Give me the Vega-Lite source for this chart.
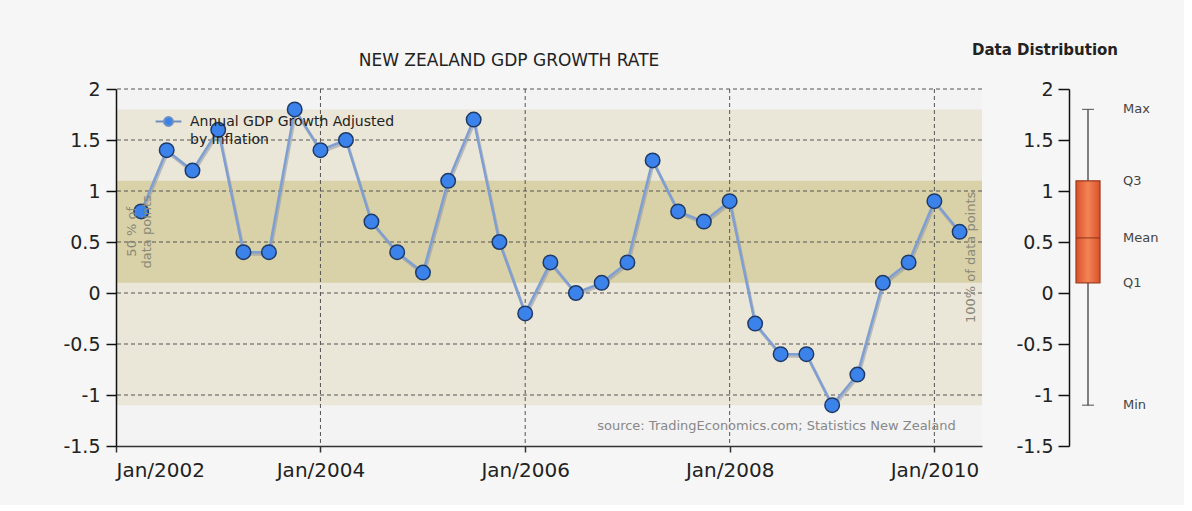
{
  "$schema": "https://vega.github.io/schema/vega-lite/v6.json",
  "background": "#f6f6f6",
  "padding": {"left": 62, "top": 43, "right": 25, "bottom": 25},
  "spacing": -12,
  "datasets": {
    "gdp": [
      {"date": "2002-04-01", "value": 0.8, "series": "Annual GDP Growth Adjusted by Inflation"},
      {"date": "2002-07-01", "value": 1.4, "series": "Annual GDP Growth Adjusted by Inflation"},
      {"date": "2002-10-01", "value": 1.2, "series": "Annual GDP Growth Adjusted by Inflation"},
      {"date": "2003-01-01", "value": 1.6, "series": "Annual GDP Growth Adjusted by Inflation"},
      {"date": "2003-04-01", "value": 0.4, "series": "Annual GDP Growth Adjusted by Inflation"},
      {"date": "2003-07-01", "value": 0.4, "series": "Annual GDP Growth Adjusted by Inflation"},
      {"date": "2003-10-01", "value": 1.8, "series": "Annual GDP Growth Adjusted by Inflation"},
      {"date": "2004-01-01", "value": 1.4, "series": "Annual GDP Growth Adjusted by Inflation"},
      {"date": "2004-04-01", "value": 1.5, "series": "Annual GDP Growth Adjusted by Inflation"},
      {"date": "2004-07-01", "value": 0.7, "series": "Annual GDP Growth Adjusted by Inflation"},
      {"date": "2004-10-01", "value": 0.4, "series": "Annual GDP Growth Adjusted by Inflation"},
      {"date": "2005-01-01", "value": 0.2, "series": "Annual GDP Growth Adjusted by Inflation"},
      {"date": "2005-04-01", "value": 1.1, "series": "Annual GDP Growth Adjusted by Inflation"},
      {"date": "2005-07-01", "value": 1.7, "series": "Annual GDP Growth Adjusted by Inflation"},
      {"date": "2005-10-01", "value": 0.5, "series": "Annual GDP Growth Adjusted by Inflation"},
      {"date": "2006-01-01", "value": -0.2, "series": "Annual GDP Growth Adjusted by Inflation"},
      {"date": "2006-04-01", "value": 0.3, "series": "Annual GDP Growth Adjusted by Inflation"},
      {"date": "2006-07-01", "value": 0.0, "series": "Annual GDP Growth Adjusted by Inflation"},
      {"date": "2006-10-01", "value": 0.1, "series": "Annual GDP Growth Adjusted by Inflation"},
      {"date": "2007-01-01", "value": 0.3, "series": "Annual GDP Growth Adjusted by Inflation"},
      {"date": "2007-04-01", "value": 1.3, "series": "Annual GDP Growth Adjusted by Inflation"},
      {"date": "2007-07-01", "value": 0.8, "series": "Annual GDP Growth Adjusted by Inflation"},
      {"date": "2007-10-01", "value": 0.7, "series": "Annual GDP Growth Adjusted by Inflation"},
      {"date": "2008-01-01", "value": 0.9, "series": "Annual GDP Growth Adjusted by Inflation"},
      {"date": "2008-04-01", "value": -0.3, "series": "Annual GDP Growth Adjusted by Inflation"},
      {"date": "2008-07-01", "value": -0.6, "series": "Annual GDP Growth Adjusted by Inflation"},
      {"date": "2008-10-01", "value": -0.6, "series": "Annual GDP Growth Adjusted by Inflation"},
      {"date": "2009-01-01", "value": -1.1, "series": "Annual GDP Growth Adjusted by Inflation"},
      {"date": "2009-04-01", "value": -0.8, "series": "Annual GDP Growth Adjusted by Inflation"},
      {"date": "2009-07-01", "value": 0.1, "series": "Annual GDP Growth Adjusted by Inflation"},
      {"date": "2009-10-01", "value": 0.3, "series": "Annual GDP Growth Adjusted by Inflation"},
      {"date": "2010-01-01", "value": 0.9, "series": "Annual GDP Growth Adjusted by Inflation"},
      {"date": "2010-04-01", "value": 0.6, "series": "Annual GDP Growth Adjusted by Inflation"}
    ],
    "bands": [
      {"band": "100%", "lo": -1.1, "hi": 1.8},
      {"band": "50%", "lo": 0.1, "hi": 1.1}
    ],
    "ygrid": [{"v": -1}, {"v": -0.5}, {"v": 0}, {"v": 0.5}, {"v": 1}, {"v": 1.5}, {"v": 2}],
    "xgrid": [{"d": "2004-01-01"}, {"d": "2006-01-01"}, {"d": "2008-01-01"}, {"d": "2010-01-01"}],
    "box": [{"series": "GDP", "Min": -1.1, "Q1": 0.1, "Mean": 0.54, "Q3": 1.1, "Max": 1.8}]
  },
  "hconcat": [
    {
      "width": 866,
      "height": 357,
      "title": {"text": "NEW ZEALAND GDP GROWTH RATE", "font": "DejaVu Sans", "fontSize": 17, "fontWeight": "normal", "color": "#222222", "dx": -40, "offset": 10},
      "view": {"fill": "#f3f3f3", "stroke": null},
      "layer": [
        {
          "data": {"name": "bands"},
          "mark": {"type": "rect"},
          "encoding": {
            "y": {"field": "hi", "type": "quantitative", "title": null,
                  "scale": {"domain": [-1.5, 2], "nice": false, "zero": false},
                  "axis": {"values": [-1.5, -1, -0.5, 0, 0.5, 1, 1.5, 2], "labelExpr": "'' + datum.value", "grid": false, "zindex": 1,
                           "domainColor": "#111111", "domainWidth": 1.5, "tickColor": "#111111", "tickSize": 10, "tickWidth": 1.5,
                           "labelFont": "DejaVu Sans", "labelFontSize": 19, "labelColor": "#222222", "labelPadding": 6}},
            "y2": {"field": "lo"},
            "color": {"field": "band", "type": "nominal", "scale": {"domain": ["100%", "50%"], "range": ["#eae6d8", "#d9d1a7"]}, "legend": null}
          }
        },
        {
          "data": {"name": "ygrid"},
          "mark": {"type": "rule", "color": "#555555", "strokeDash": [4, 3], "strokeWidth": 1},
          "encoding": {"y": {"field": "v", "type": "quantitative", "title": null}}
        },
        {
          "data": {"name": "xgrid"},
          "mark": {"type": "rule", "color": "#555555", "strokeDash": [4, 3], "strokeWidth": 1},
          "encoding": {"x": {"field": "d", "type": "temporal", "title": null,
                             "scale": {"type": "utc", "nice": false, "domain": [{"year": 2002, "month": 1, "date": 1, "utc": true}, {"year": 2010, "month": 6, "date": 20, "utc": true}]},
                             "axis": {"values": [{"year": 2002, "month": 1, "date": 1, "utc": true}, {"year": 2004, "month": 1, "date": 1, "utc": true}, {"year": 2006, "month": 1, "date": 1, "utc": true}, {"year": 2008, "month": 1, "date": 1, "utc": true}, {"year": 2010, "month": 1, "date": 1, "utc": true}],
                                      "labelExpr": "utcFormat(datum.value, '%b/%Y')", "grid": false, "zindex": 1,
                                      "domainColor": "#333333", "domainWidth": 1.5, "tickColor": "#333333", "tickSize": 6, "tickWidth": 1.5,
                                      "labelFont": "DejaVu Sans", "labelFontSize": 20, "labelColor": "#222222", "labelPadding": 8}}}
        },
        {
          "data": {"name": "gdp"},
          "mark": {"type": "line", "color": "#8e96a3", "strokeWidth": 3, "opacity": 0.55, "xOffset": 1, "yOffset": 2},
          "encoding": {"x": {"field": "date", "type": "temporal", "title": null}, "y": {"field": "value", "type": "quantitative", "title": null}}
        },
        {
          "data": {"name": "gdp"},
          "mark": {"type": "line", "color": "#7f9fd3", "strokeWidth": 2.5},
          "encoding": {"x": {"field": "date", "type": "temporal", "title": null}, "y": {"field": "value", "type": "quantitative", "title": null}}
        },
        {
          "data": {"name": "gdp"},
          "mark": {"type": "point", "shape": "circle", "filled": true, "size": 210, "stroke": "#1f3a66", "strokeWidth": 1.5, "opacity": 1},
          "encoding": {
            "x": {"field": "date", "type": "temporal", "title": null},
            "y": {"field": "value", "type": "quantitative", "title": null},
            "fill": {"field": "series", "type": "nominal", "scale": {"range": ["#3b82ea"]},
                     "legend": {"orient": "top-left", "offset": 23, "title": null, "padding": 0,
                                "labelExpr": "['Annual GDP Growth Adjusted', 'by Inflation']",
                                "labelFont": "DejaVu Sans", "labelFontSize": 14, "labelColor": "#222222", "labelLimit": 400,
                                "symbolOffset": 20, "labelOffset": 12,
                                "symbolType": "M-1.6,0L-0.55,0M0.55,0L1.6,0M-0.55,0A0.55,0.55 0 1,1 0.55,0A0.55,0.55 0 1,1 -0.55,0Z",
                                "symbolSize": 260, "symbolStrokeColor": "#6f8fc0", "symbolStrokeWidth": 2, "symbolFillColor": "#3b82ea"}}
          }
        },
        {
          "data": {"values": [{}]},
          "mark": {"type": "text", "text": ["50 % of", "data points"], "angle": 270, "align": "center", "baseline": "middle", "font": "DejaVu Sans", "fontSize": 13, "color": "#8a8878"},
          "encoding": {"x": {"datum": {"year": 2002, "month": 2, "date": 27, "utc": true}, "type": "temporal"}, "y": {"datum": 0.6, "type": "quantitative"}}
        },
        {
          "data": {"values": [{}]},
          "mark": {"type": "text", "text": "100% of data points", "angle": 270, "align": "center", "baseline": "middle", "font": "DejaVu Sans", "fontSize": 13, "color": "#8a8878"},
          "encoding": {"x": {"datum": {"year": 2010, "month": 5, "date": 12, "utc": true}, "type": "temporal"}, "y": {"datum": 0.35, "type": "quantitative"}}
        },
        {
          "data": {"values": [{}]},
          "mark": {"type": "text", "text": "source: TradingEconomics.com; Statistics New Zealand", "align": "right", "baseline": "middle", "font": "DejaVu Sans", "fontSize": 13, "color": "#888888"},
          "encoding": {"x": {"datum": {"year": 2010, "month": 3, "date": 18, "utc": true}, "type": "temporal"}, "y": {"datum": -1.3, "type": "quantitative"}}
        }
      ]
    },
    {
      "width": 38,
      "height": 357,
      "data": {"name": "box"},
      "title": {"text": "Data Distribution", "font": "DejaVu Sans", "fontSize": 15, "fontWeight": "bold", "color": "#222222", "dx": -43, "offset": 22},
      "view": {"stroke": null},
      "encoding": {
        "x": {"field": "series", "type": "nominal", "axis": null, "title": null, "scale": {"paddingInner": 0, "paddingOuter": 0}}
      },
      "layer": [
        {
          "mark": {"type": "rule", "color": "#333333", "strokeWidth": 1.2},
          "encoding": {
            "y": {"field": "Min", "type": "quantitative", "title": null,
                  "scale": {"domain": [-1.5, 2], "nice": false, "zero": false},
                  "axis": {"values": [-1.5, -1, -0.5, 0, 0.5, 1, 1.5, 2], "labelExpr": "'' + datum.value", "grid": false,
                           "domainColor": "#111111", "domainWidth": 1.5, "tickColor": "#111111", "tickSize": 11, "tickWidth": 1.5,
                           "labelFont": "DejaVu Sans", "labelFontSize": 19, "labelColor": "#222222", "labelPadding": 5}},
            "y2": {"field": "Max"}
          }
        },
        {
          "mark": {"type": "tick", "color": "#333333", "size": 12, "thickness": 1.2},
          "encoding": {"y": {"field": "Max", "type": "quantitative", "title": null}}
        },
        {
          "mark": {"type": "tick", "color": "#333333", "size": 12, "thickness": 1.2},
          "encoding": {"y": {"field": "Min", "type": "quantitative", "title": null}}
        },
        {
          "mark": {"type": "bar", "width": 24, "stroke": "#9b3a1d", "strokeWidth": 1.2,
                   "color": {"gradient": "linear", "x1": 0, "x2": 1, "y1": 0, "y2": 0,
                             "stops": [{"offset": 0, "color": "#d9512a"}, {"offset": 0.5, "color": "#f48457"}, {"offset": 1, "color": "#d9512a"}]}},
          "encoding": {"y": {"field": "Q1", "type": "quantitative", "title": null}, "y2": {"field": "Q3"}}
        },
        {
          "mark": {"type": "tick", "color": "#7a2a10", "size": 24, "thickness": 1.2},
          "encoding": {"y": {"field": "Mean", "type": "quantitative", "title": null}}
        },
        {
          "transform": [{"fold": ["Max", "Q3", "Mean", "Q1", "Min"], "as": ["stat", "value"]}],
          "mark": {"type": "text", "align": "left", "baseline": "middle", "dx": 35, "font": "DejaVu Sans", "fontSize": 13, "color": "#444444"},
          "encoding": {"y": {"field": "value", "type": "quantitative", "title": null}, "text": {"field": "stat", "type": "nominal"}}
        }
      ]
    }
  ],
  "config": {"font": "DejaVu Sans", "view": {"stroke": null}, "style": {"guide-label": {"lineHeight": 18}}}
}
